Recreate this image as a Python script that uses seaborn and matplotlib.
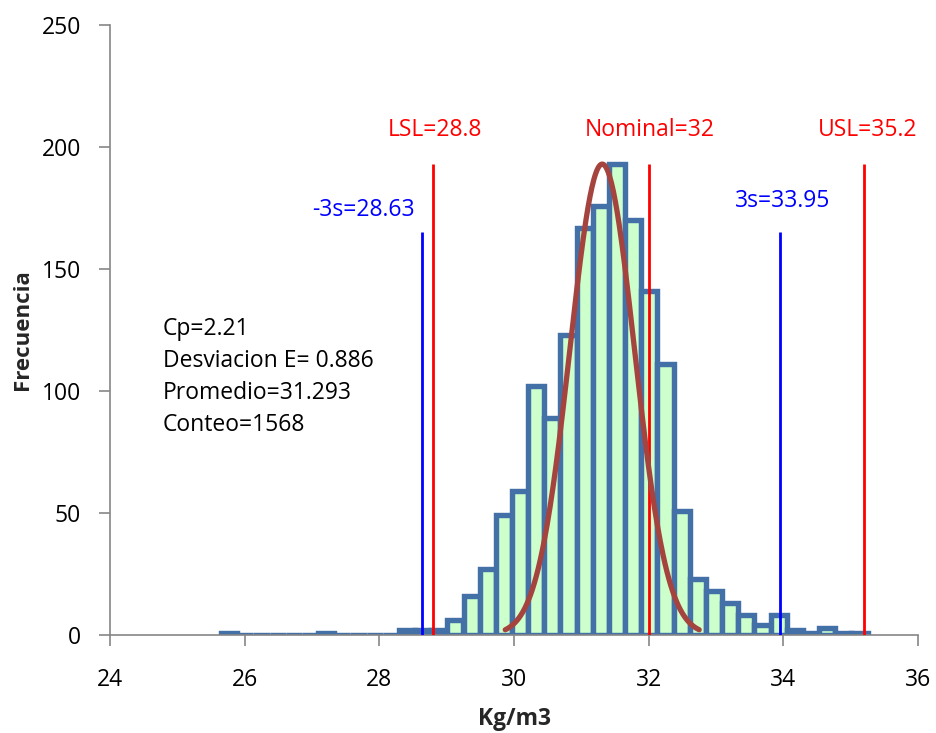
import numpy as np
import pandas as pd
import matplotlib
matplotlib.use("Agg")
import matplotlib.pyplot as plt
import seaborn as sns

# ---- data ----
bin_first_center = 25.77
bin_width = 0.24
counts = [1, 0, 0, 0, 0, 0, 1, 0, 0, 0, 0, 2, 2, 2, 6, 16, 27, 49, 59, 102,
          89, 123, 167, 176, 193, 170, 141, 111, 51, 23, 18, 13, 8, 4, 8, 2, 1, 3, 1, 1]

curve_mean = 31.31
curve_sigma = 0.48
curve_peak = 193

spec_labels = ["LSL=28.8", "Nominal=32", "USL=35.2"]
spec_values = [28.8, 32.0, 35.2]
spec_top = 193

sigma_labels = ["-3s=28.63", "3s=33.95"]
sigma_values = [28.63, 33.95]
sigma_top = 165

stats_lines = ["Cp=2.21", "Desviacion E= 0.886", "Promedio=31.293", "Conteo=1568"]

x_ticks = [24, 26, 28, 30, 32, 34, 36]
y_ticks = [0, 50, 100, 150, 200, 250]

# ---- derived ----
centers = np.round(bin_first_center + bin_width * np.arange(len(counts)), 4)
df = pd.DataFrame({"center": centers, "count": counts})

sns.set_style("white")
plt.rcParams['font.family'] = ['Open Sans', 'DejaVu Sans']

FS = 16.5

fig = plt.figure(figsize=(9.36, 7.33), dpi=100)
ax = fig.add_axes([110 / 936, 1 - 635 / 733, (918 - 110) / 936, (635 - 25) / 733])

sns.barplot(data=df, x="center", y="count", native_scale=True, width=1.0,
            errorbar=None, color="#CCFFCC", saturation=1, ax=ax,
            edgecolor="#4470A8", linewidth=3.9, zorder=2)

for v in spec_values:
    ax.vlines(v, 0, spec_top, color="#FF0000", lw=2.0, zorder=3)
for v in sigma_values:
    ax.vlines(v, 0, sigma_top, color="#0000FF", lw=2.0, zorder=3)

xs = np.linspace(curve_mean - 3 * curve_sigma, curve_mean + 3 * curve_sigma, 200)
ys = curve_peak * np.exp(-0.5 * ((xs - curve_mean) / curve_sigma) ** 2)
sns.lineplot(x=xs, y=ys, ax=ax, color="#A5443F", lw=3.8, zorder=4)

# labels
label_pos_spec = [(28.83, 207), (32.02, 207), (35.25, 207)]
for (lx, ly), t in zip(label_pos_spec, spec_labels):
    ax.text(lx, ly, t, color="#FF0000", fontsize=FS, ha="center", va="center")
label_pos_sigma = [(27.77, 174), (33.99, 178)]
for (lx, ly), t in zip(label_pos_sigma, sigma_labels):
    ax.text(lx, ly, t, color="#0000FF", fontsize=FS, ha="center", va="center")

for i, t in enumerate(stats_lines):
    fig.text(163 / 936, 1 - (329 + i * 32) / 733, t, fontsize=FS,
             ha="left", va="center", color="black")

ax.set_xlim(24, 36)
ax.set_ylim(0, 250)
ax.set_xticks(x_ticks)
ax.set_xticklabels([str(t) for t in x_ticks])
ax.set_yticks(y_ticks)
ax.tick_params(axis="both", bottom=True, left=True, labelsize=FS, colors="black",
               length=8, width=1.2, direction="out", color="#868686")
ax.tick_params(axis="x", pad=16)
ax.tick_params(axis="y", pad=13)
for s in ["top", "right"]:
    ax.spines[s].set_visible(False)
for s in ["left", "bottom"]:
    ax.spines[s].set_color("#868686")
    ax.spines[s].set_linewidth(1.2)

ax.set_xlabel("Kg/m3", fontsize=16.5, fontweight="bold")
ax.set_ylabel("Frecuencia", fontsize=16, fontweight="bold")
ax.xaxis.set_label_coords(0.5, -(707 - 635) / 610)
ax.yaxis.set_label_coords(-(110 - 33) / 808, 0.5)

fig.savefig("out.png", dpi=100)
